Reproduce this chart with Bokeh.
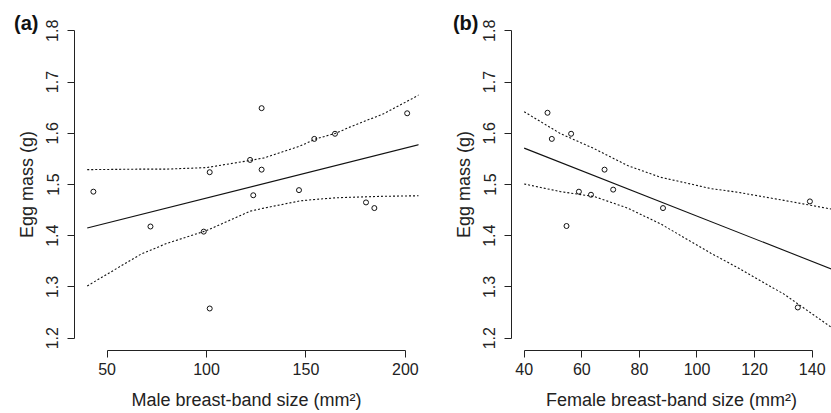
from bokeh.plotting import figure
from bokeh.layouts import row
from bokeh.models import FixedTicker, Range1d, LinearAxis
from bokeh.embed import file_html
from bokeh.resources import INLINE

# ---------------- data ----------------
male_size = [43.1, 71.8, 98.6, 101.6, 101.6, 121.9, 123.5, 127.7, 127.7,
             146.5, 154.2, 164.6, 180.2, 184.4, 200.9]
male_egg = [1.486, 1.418, 1.408, 1.258, 1.524, 1.548, 1.479, 1.649, 1.529,
            1.489, 1.589, 1.599, 1.465, 1.454, 1.639]

male_fit_x = [40, 207]
male_fit_y = [1.415, 1.578]
male_band_x = [40, 67, 80, 100, 122, 129, 147, 155, 165, 172, 189, 207]
male_upper = [1.529, 1.530, 1.530, 1.533, 1.547, 1.552, 1.575, 1.589, 1.600, 1.612, 1.638, 1.675]
male_lower = [1.302, 1.364, 1.385, 1.410, 1.448, 1.454, 1.468, 1.471, 1.474, 1.475, 1.477, 1.478]

female_size = [48.1, 49.6, 54.7, 56.3, 59.0, 63.2, 67.9, 70.9, 88.2, 135.0, 139.2]
female_egg = [1.640, 1.589, 1.419, 1.599, 1.486, 1.480, 1.529, 1.490, 1.454, 1.260, 1.467]

female_fit_x = [40, 146.7]
female_fit_y = [1.571, 1.335]
female_band_x = [40, 52.7, 64.3, 75.9, 87.4, 97.8, 104.8, 114.0, 130.2, 146.7]
female_upper = [1.642, 1.599, 1.570, 1.537, 1.514, 1.501, 1.492, 1.485, 1.469, 1.452]
female_lower = [1.501, 1.486, 1.4765, 1.454, 1.423, 1.389, 1.366, 1.338, 1.286, 1.221]

y_ticks = [1.2, 1.3, 1.4, 1.5, 1.6, 1.7, 1.8]
y_tick_labels = ["1.2", "1.3", "1.4", "1.5", "1.6", "1.7", "1.8"]
male_x_ticks = [50, 100, 150, 200]
female_x_ticks = [40, 60, 80, 100, 120, 140]

FONT = "Liberation Sans"
INK = "#222222"
TAG_Y = 1.816


def panel(xs, ys, fx, fy, bx, bu, bl, xr, xticks, xbounds, xlabel, tag,
          width, ml, mr, tag_standoff):
    p = figure(width=width, height=413, x_range=Range1d(*xr),
               y_range=Range1d(1.176, 1.824), output_backend="svg",
               toolbar_location=None, min_border_left=ml, min_border_right=mr,
               min_border_top=18, min_border_bottom=63)
    p.outline_line_color = None
    p.grid.visible = False
    p.background_fill_color = "white"
    p.border_fill_color = "white"

    p.line(bx, bu, line_color="#111111", line_width=1.1, line_dash="2 2")
    p.line(bx, bl, line_color="#111111", line_width=1.1, line_dash="2 2")
    p.line(fx, fy, line_color="#111111", line_width=1.1)
    p.scatter(xs, ys, size=5, fill_color=None, line_color="#111111", line_width=1)

    xa = p.xaxis[0]
    xa.ticker = FixedTicker(ticks=xticks)
    xa.bounds = xbounds
    xa.axis_label = xlabel
    ya = p.yaxis[0]
    ya.ticker = FixedTicker(ticks=y_ticks)
    ya.major_label_overrides = {t: l for t, l in zip(y_ticks, y_tick_labels)}
    ya.bounds = (1.2, 1.8)
    ya.axis_label = "Egg mass (g)"
    ya.major_label_orientation = "vertical"
    for ax in (xa, ya):
        ax.minor_tick_line_color = None
        ax.major_tick_in = 0
        ax.major_tick_out = 7
        ax.axis_line_color = INK
        ax.major_tick_line_color = INK
        ax.major_label_text_font = FONT
        ax.major_label_text_font_size = "16px"
        ax.major_label_text_color = INK
        ax.axis_label_text_font = FONT
        ax.axis_label_text_font_size = "18px"
        ax.axis_label_text_font_style = "normal"
        ax.axis_label_text_color = INK
    xa.major_label_standoff = 5
    xa.axis_label_standoff = 12
    ya.major_label_standoff = 9
    ya.axis_label_standoff = 7

    # panel tag "(a)" / "(b)" drawn as the single label of a bare extra axis
    tag_axis = LinearAxis(ticker=FixedTicker(ticks=[TAG_Y]),
                          major_label_overrides={TAG_Y: tag},
                          axis_line_color=None, major_tick_line_color=None,
                          minor_tick_line_color=None, major_tick_in=0,
                          major_tick_out=0, major_label_standoff=tag_standoff,
                          major_label_orientation="horizontal",
                          major_label_text_font=FONT,
                          major_label_text_font_size="20px",
                          major_label_text_font_style="bold",
                          major_label_text_color="#111111")
    p.add_layout(tag_axis, "left")
    return p


pa = panel(male_size, male_egg, male_fit_x, male_fit_y, male_band_x,
           male_upper, male_lower, (33.6, 206.6), male_x_ticks, (50, 200),
           "Male breast-band size (mm²)", "(a)", 420, 74, 2, -25)
pb = panel(female_size, female_egg, female_fit_x, female_fit_y, female_band_x,
           female_upper, female_lower, (35.6, 146.7), female_x_ticks, (40, 140),
           "Female breast-band size (mm²)", "(b)", 411, 91, 0, -28)

layout = row(pa, pb)
open("out.html", "w").write(file_html(layout, INLINE))
